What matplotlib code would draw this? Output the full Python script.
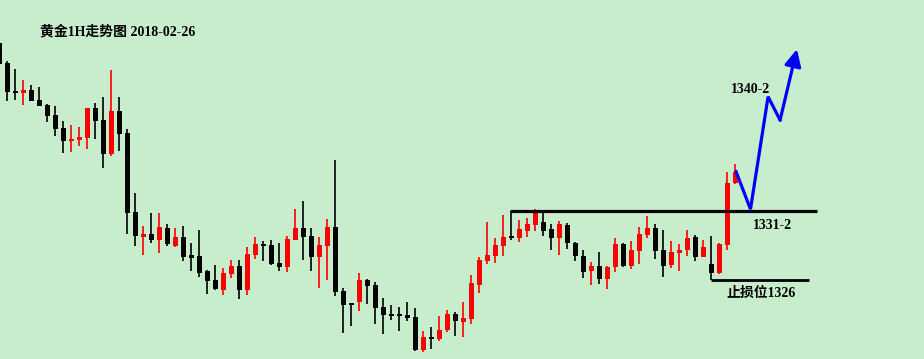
import numpy as np
import matplotlib
matplotlib.use("Agg")
import matplotlib.pyplot as plt

# hourly gold candles, first one is cut off at the left edge
opens = [1343.25, 1341.79, 1339.76, 1339.63, 1339.83, 1339.10, 1338.74, 1338.01, 1337.06, 1336.14,
         1336.21, 1336.36, 1338.52, 1337.64, 1335.19, 1338.30, 1336.70, 1330.95, 1329.15, 1329.37,
         1328.93, 1329.81, 1328.50, 1329.15, 1327.84, 1327.77, 1326.68, 1326.02, 1325.29, 1326.46,
         1327.04, 1325.29, 1327.84, 1328.64, 1328.57, 1327.26, 1326.97, 1328.93, 1329.81, 1329.22,
         1327.70, 1328.50, 1329.88, 1325.22, 1324.35, 1324.42, 1326.02, 1325.64, 1324.03, 1323.53,
         1323.47, 1323.47, 1323.33, 1320.93, 1321.87, 1321.73, 1322.38, 1323.55, 1322.96, 1323.18,
         1325.66, 1327.38, 1327.75, 1328.47, 1329.20, 1329.06, 1329.57, 1330.02, 1330.22, 1329.71,
         1329.06, 1330.00, 1328.69, 1327.75, 1326.65, 1327.02, 1326.07, 1326.97, 1328.62, 1327.04,
         1328.13, 1329.28, 1329.78, 1328.18, 1327.11, 1327.99, 1328.21, 1329.13, 1327.70, 1327.16,
         1326.53, 1328.57, 1333.06]
highs = [1343.32, 1341.94, 1341.36, 1340.56, 1340.19, 1340.05, 1338.81, 1338.66, 1337.57, 1337.28,
         1337.14, 1338.52, 1338.88, 1339.32, 1341.28, 1339.32, 1336.99, 1332.33, 1329.95, 1330.88,
         1330.88, 1330.10, 1329.81, 1329.95, 1328.71, 1329.66, 1326.75, 1327.11, 1326.90, 1327.48,
         1327.48, 1328.40, 1329.13, 1328.86, 1328.93, 1328.71, 1329.22, 1331.19, 1331.77, 1329.81,
         1329.15, 1330.46, 1334.73, 1325.44, 1324.35, 1326.53, 1326.09, 1325.85, 1324.71, 1324.20,
         1324.06, 1324.42, 1323.98, 1322.31, 1322.60, 1323.40, 1323.84, 1323.69, 1324.42, 1326.39,
         1327.70, 1330.22, 1329.06, 1330.73, 1331.00, 1330.37, 1330.51, 1331.17, 1330.93, 1330.08,
         1330.29, 1330.15, 1328.77, 1328.18, 1327.31, 1328.04, 1327.02, 1329.06, 1328.69, 1328.84,
         1329.86, 1330.66, 1330.08, 1329.64, 1328.84, 1328.62, 1329.64, 1329.28, 1328.91, 1329.20,
         1328.69, 1333.86, 1334.44]
lows = [1341.72, 1339.05, 1339.10, 1338.76, 1339.05, 1338.69, 1337.52, 1336.50, 1335.26, 1335.34,
        1335.77, 1335.56, 1336.28, 1334.17, 1335.05, 1335.41, 1329.37, 1328.50, 1327.84, 1328.71,
        1327.99, 1328.50, 1328.42, 1327.40, 1326.68, 1326.24, 1325.00, 1325.29, 1324.93, 1326.17,
        1324.64, 1324.93, 1327.55, 1327.40, 1327.11, 1326.68, 1326.60, 1328.93, 1327.48, 1326.68,
        1325.44, 1326.02, 1324.86, 1322.16, 1322.67, 1323.77, 1324.28, 1322.82, 1322.09, 1323.11,
        1322.31, 1323.04, 1320.85, 1320.78, 1321.00, 1321.58, 1322.24, 1321.95, 1321.87, 1322.82,
        1325.08, 1327.16, 1327.24, 1327.75, 1328.91, 1328.77, 1329.13, 1329.57, 1329.20, 1328.18,
        1327.82, 1328.26, 1327.38, 1326.15, 1325.64, 1325.71, 1325.34, 1326.60, 1326.97, 1326.82,
        1327.19, 1329.06, 1327.55, 1326.24, 1326.90, 1326.68, 1327.77, 1327.40, 1327.70, 1326.00,
        1326.46, 1328.21, 1332.99]
closes = [1341.72, 1339.70, 1339.63, 1339.83, 1339.05, 1338.69, 1337.96, 1337.01, 1336.14, 1336.26,
          1336.41, 1338.52, 1337.59, 1335.19, 1338.30, 1336.65, 1330.90, 1329.22, 1329.37, 1328.93,
          1329.86, 1328.64, 1329.15, 1327.70, 1327.62, 1326.53, 1325.95, 1325.37, 1326.53, 1327.04,
          1325.29, 1327.91, 1328.64, 1328.50, 1327.19, 1326.97, 1329.01, 1329.81, 1329.15, 1327.70,
          1328.57, 1329.88, 1325.15, 1324.20, 1324.20, 1326.02, 1325.59, 1323.98, 1323.47, 1323.40,
          1323.40, 1323.26, 1320.93, 1321.87, 1321.73, 1322.38, 1323.55, 1323.04, 1323.26, 1325.80,
          1327.48, 1327.82, 1328.55, 1329.13, 1329.06, 1329.71, 1330.08, 1330.91, 1329.57, 1329.06,
          1330.08, 1328.69, 1327.75, 1326.58, 1327.02, 1326.07, 1326.95, 1328.62, 1327.04, 1328.18,
          1329.35, 1329.78, 1328.13, 1327.04, 1328.04, 1328.18, 1329.06, 1327.70, 1328.40, 1326.53,
          1328.62, 1333.06, 1333.86]

resistance = 1331.0
stop_loss = 1326.0
res_start, res_end = 62.84, 101.2     # candle index range of the 1331 line
stop_start, stop_end = 88, 100.2

# hand drawn forecast path (candle index, price)
path_x = [91.1, 92.9, 95.1, 96.6]
path_y = [1333.88, 1331.15, 1339.34, 1337.64]
arrow_tip = (98.7, 1342.79)

title = "黄金1H走势图 2018-02-26"

bg = "#C7EDCC"
fig = plt.figure(figsize=(9.24, 3.59), dpi=100, facecolor=bg)
ax = fig.add_axes([0, 0, 1, 1])
ax.set_facecolor(bg)
ax.axis("off")

x = np.arange(-1, len(opens) - 1)
o = np.array(opens)
c = np.array(closes)
colors = ["#FF0000" if cc > oo else "#000000" for oo, cc in zip(o, c)]

ax.vlines(x, lows, highs, colors=colors, linewidth=1.2)
bottoms = np.minimum(o, c)
heights = np.maximum(np.abs(c - o), 0.13)
ax.bar(x, heights, bottom=bottoms, width=0.625, color=colors, linewidth=0)

# support / resistance and stop loss
ax.plot([res_start, res_end], [resistance, resistance], color="black", lw=2.3, solid_capstyle="butt", zorder=5)
ax.plot([stop_start, stop_end], [stop_loss, stop_loss], color="black", lw=2.0, solid_capstyle="butt", zorder=5)

# blue forecast
ax.plot(path_x, path_y, color="#0000FF", lw=2.3, solid_joinstyle="miter", zorder=6)
ax.annotate("", xy=arrow_tip, xytext=(path_x[-1], path_y[-1]),
            arrowprops=dict(arrowstyle="-|>", color="#0000FF", lw=2.3,
                            mutation_scale=25, shrinkA=0, shrinkB=0), zorder=6)

fam = ["Liberation Serif", "Noto Sans CJK SC"]
ax.text(92.86, 1339.63, "1340-2", ha="center", va="baseline", fontsize=10, fontweight="bold", family=fam)
ax.text(95.61, 1329.71, "1331-2", ha="center", va="baseline", fontsize=10, fontweight="bold", family=fam)
ax.text(94.21, 1324.76, "止损位1326", ha="center", va="baseline", fontsize=10, fontweight="bold", family=fam)
fig.text(40 / 924, 1 - 35.5 / 359, title, ha="left", va="baseline", fontsize=10, fontweight="bold", family=fam)

ax.set_xlim(-0.9125, 114.59)
ax.set_ylim(1320.25, 1346.378)

fig.savefig("out.png", dpi=100, facecolor=bg)
